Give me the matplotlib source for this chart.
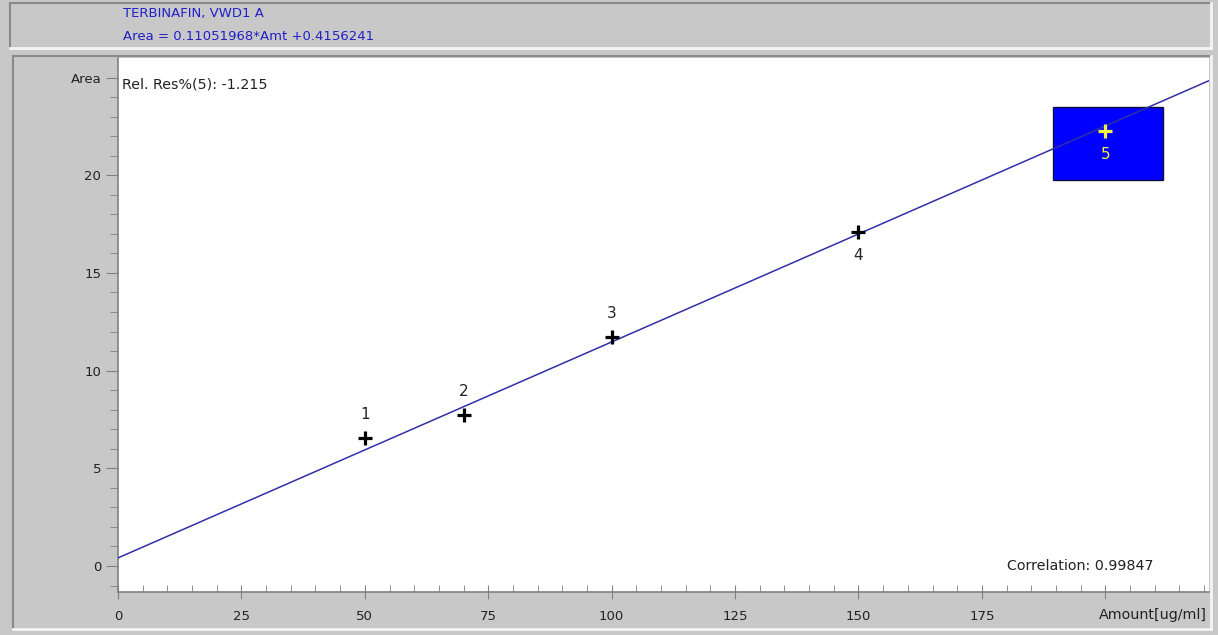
import matplotlib.pyplot as plt
import matplotlib.patches as patches
import numpy as np

plt.rcParams['font.family'] = ['DejaVu Sans']
plt.rcParams['font.size'] = 9.5

# calibration data
slope = 0.11051968
intercept = 0.4156241
amounts = [50, 70, 100, 150, 200]
areas = [6.55, 7.72, 11.71, 17.08, 22.25]
levels = ['1', '2', '3', '4', '5']
label_side = ['above', 'above', 'above', 'below', 'below']
selected = 4  # level 5 is highlighted

x_ticks = [0, 25, 50, 75, 100, 125, 150, 175, 200]
x_labels = ['0', '25', '50', '75', '100', '125', '150', '175', '']
y_ticks = [0, 5, 10, 15, 20, 25]
y_labels = ['0', '5', '10', '15', '20', 'Area']

title_lines = ['TERBINAFIN, VWD1 A', 'Area = 0.11051968*Amt +0.4156241']
rel_res_text = 'Rel. Res%(5): -1.215'
corr_text = 'Correlation: 0.99847'
x_name = 'Amount[ug/ml]'

bg = '#c8c8c8'
W, H = 1218, 635

fig = plt.figure(figsize=(W / 100, H / 100), dpi=100, facecolor=bg)


def fx(px):
    return px / W


def fy(py):
    return 1 - py / H


# 3d-looking panels (header and plot frame)
def panel(x0, y0, x1, y1):
    dark, light = '#8a8a8a', '#f4f4f4'
    fig.add_artist(plt.Line2D([fx(x0), fx(x1)], [fy(y0), fy(y0)], color=dark, lw=1.5))
    fig.add_artist(plt.Line2D([fx(x0), fx(x0)], [fy(y0), fy(y1)], color=dark, lw=1.5))
    fig.add_artist(plt.Line2D([fx(x0), fx(x1)], [fy(y1), fy(y1)], color=light, lw=2))
    fig.add_artist(plt.Line2D([fx(x1), fx(x1)], [fy(y0), fy(y1)], color=light, lw=2))


panel(10, 3, 1211, 48)
panel(13, 56, 1211, 629)

fig.text(fx(123), fy(14), title_lines[0], color='#2020c8', va='center', ha='left')
fig.text(fx(123), fy(36), title_lines[1], color='#2020c8', va='center', ha='left')

ax = fig.add_axes([fx(118), fy(592), fx(1209) - fx(118), fy(58) - fy(592)])
ax.set_facecolor('white')
ax.set_xlim(0, 221)
ax.set_ylim(-1.33, 26)

for s in ['top', 'right']:
    ax.spines[s].set_visible(False)
for s in ['left', 'bottom']:
    ax.spines[s].set_color('#808080')
    ax.spines[s].set_linewidth(1.2)

ax.set_xticks(x_ticks)
ax.set_xticklabels(x_labels)
ax.set_xticks(np.arange(0, 221, 5), minor=True)
ax.set_yticks(y_ticks)
ax.set_yticklabels(y_labels)
ax.set_yticks(np.arange(-1, 26, 1), minor=True)
ax.tick_params(axis='x', which='major', direction='inout', length=10, color='#808080',
               pad=8, labelcolor='#222222')
ax.tick_params(axis='x', which='minor', direction='in', length=5, color='#808080')
ax.tick_params(axis='y', which='major', direction='out', length=9, color='#808080',
               pad=3, labelcolor='#222222')
ax.tick_params(axis='y', which='minor', direction='out', length=6, color='#808080')

# regression line over the full range
xx = np.array(ax.get_xlim())
ax.plot(xx, slope * xx + intercept, color='#3030a8', lw=1.1, zorder=3)

# highlight box of the selected level
sx, sy = amounts[selected], areas[selected]
box = patches.Rectangle((sx - 10.7, sy - 2.5), 22.4, 3.73, facecolor='#0000ff',
                        edgecolor='#101040', lw=1, zorder=2)
ax.add_patch(box)

for i, (x, y, lab) in enumerate(zip(amounts, areas, levels)):
    c = '#f0f040' if i == selected else 'black'
    ax.plot(x, y, marker='+', markersize=9.5, mew=2.3, color=c, zorder=4)
    off = 17 if label_side[i] == 'above' else -17
    ax.annotate(lab, (x, y), xytext=(0, off), textcoords='offset points',
                ha='center', va='center', color=c if i == selected else '#222222',
                fontsize=11, zorder=5)

ax.text(0.004, 0.951, rel_res_text, transform=ax.transAxes, ha='left', va='center',
        color='#222222', fontsize=10.3)
ax.text(0.9487, 0.0487, corr_text, transform=ax.transAxes, ha='right', va='center',
        color='#222222', fontsize=10.3)
fig.text(fx(1207), fy(615), x_name, ha='right', va='center', color='#222222',
         fontsize=10.3)

fig.savefig('out.png', dpi=100, facecolor=bg)
